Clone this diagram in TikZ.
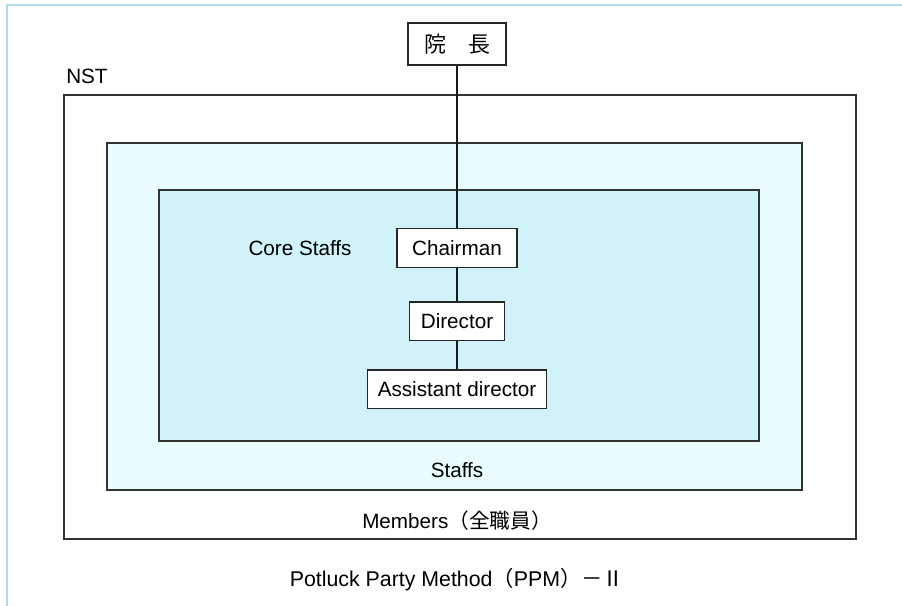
\documentclass[tikz,border=0pt]{standalone}
\usepackage{fontspec}
\setmainfont{Liberation Sans}
\newfontfamily\jp{Noto Sans CJK JP}
\usetikzlibrary{positioning}
\definecolor{staffcyan}{HTML}{E9FCFD}
\definecolor{corecyan}{HTML}{CFF3F8}
\definecolor{scanline}{HTML}{A9DEE8}
\tikzset{
	area/.style={
		rectangle,
		draw=black!80,
		line width=1pt
	}
}

\begin{document}
\begin{tikzpicture}[x=0.75pt,y=-0.75pt]
		\tikzstyle{post}=[rectangle, draw=black!85, fill=white, line width=1pt, minimum height=29pt, inner sep=0pt, font=\fontsize{15.5}{18}\selectfont]
		\tikzstyle{connect}=[line width=1.4pt, black!90]
		\tikzstyle{lbl}=[inner sep=0pt, font=\fontsize{15.5}{18}\selectfont]
		\useasboundingbox (0,0) rectangle (902,606);
		\draw [scanline, thick] (7,606) -- (7,5) -- (902,5);
		
		\draw [area] (64,95) rectangle (856,539);
		\draw [area, fill=staffcyan] (107,143) rectangle (802,490);
		\draw [area, fill=corecyan] (159,190) rectangle (759,441);
		
		\node[post, minimum width=73.5pt, minimum height=31.5pt] (head) at (457,44) {\jp\fontsize{16.5}{18}\selectfont 院\hspace{1em}長};
		\node[post, minimum width=90pt] (chair) at (457,248) {Chairman};
		\node[post, minimum width=71pt] (dir) [below=25pt of chair] {Director};
		\node[post, minimum width=134pt] (asst) [below=21pt of dir] {Assistant director};
		
		\draw [connect] (head) -- (chair);
		\draw [connect] (chair) -- (dir);
		\draw [connect] (dir) -- (asst);
		
		\node[lbl, anchor=west] (nst) at (66,76) {NST};
		\node[lbl] (core) at (300,248) {Core Staffs};
		\node[lbl] (staffs) at (457,470) {Staffs};
		\node[lbl] (members) at (457,521) {Members{\jp （全職員）}};
		\node[lbl, font=\fontsize{16}{18}\selectfont] (title) at (457,580) {Potluck Party Method{\jp （}PPM{\jp ）－Ⅱ}};
		
\end{tikzpicture}
\end{document}
